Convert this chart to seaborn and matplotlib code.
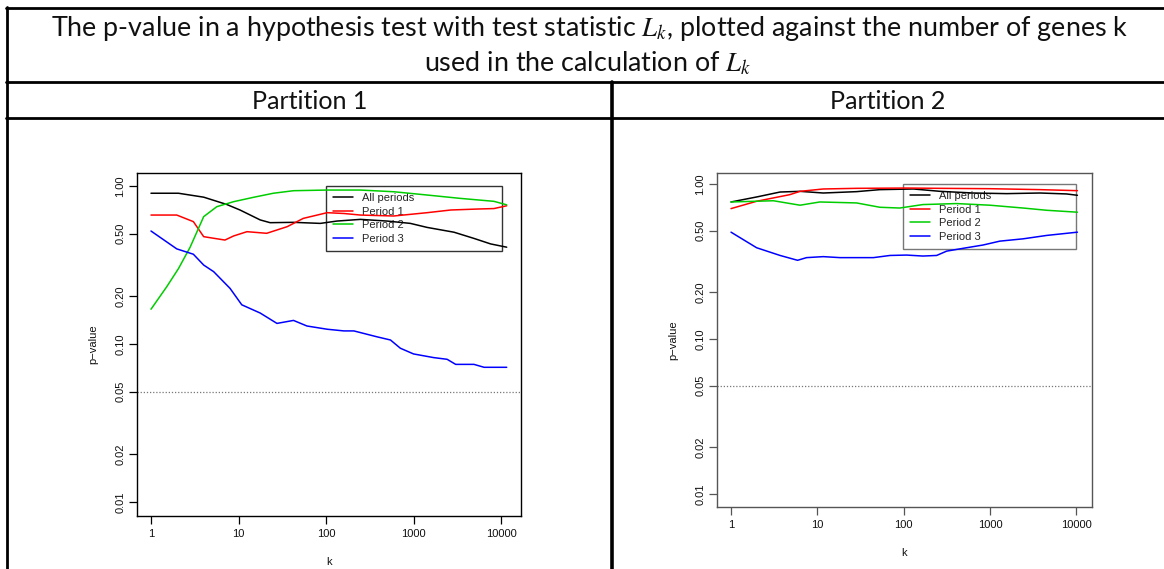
import numpy as np
import pandas as pd
import matplotlib
matplotlib.use("Agg")
import matplotlib.pyplot as plt
import seaborn as sns
from matplotlib.lines import Line2D

sns.set_theme(style="white")
plt.rcParams['font.family'] = ['Liberation Sans', 'DejaVu Sans']
plt.rcParams['mathtext.fontset'] = 'stix'

# ---------------- data ----------------
title_line1 = "The p-value in a hypothesis test with test statistic $L_k$, plotted against the number of genes k"
title_line2 = "used in the calculation of $L_k$"
panel_titles = ["Partition 1", "Partition 2"]
series_names = ["All periods", "Period 1", "Period 2", "Period 3"]
x_ticks = [1, 10, 100, 1000, 10000]
x_tick_labels = ["1", "10", "100", "1000", "10000"]
y_ticks = [0.01, 0.02, 0.05, 0.10, 0.20, 0.50, 1.00]
y_tick_labels = ["0.01", "0.02", "0.05", "0.10", "0.20", "0.50", "1.00"]
threshold = 0.05

# Partition 1
p1_all_k = [1, 2.06, 4, 7.3, 10.4, 17.7, 23, 42.5, 86, 133, 247, 500, 920, 1430, 2900, 4900, 7600, 11600]
p1_all_p = [0.90, 0.90, 0.85, 0.765, 0.705, 0.61, 0.586, 0.589, 0.58, 0.60, 0.615, 0.60, 0.58, 0.547, 0.51, 0.466, 0.43, 0.41]
p1_per1_k = [1, 1.97, 3.05, 4, 5.2, 7, 8.8, 12.5, 21, 36, 55, 103, 160, 247, 594, 1430, 2660, 5370, 8300, 11600]
p1_per1_p = [0.655, 0.655, 0.595, 0.478, 0.467, 0.455, 0.483, 0.514, 0.502, 0.553, 0.624, 0.678, 0.67, 0.655, 0.646, 0.678, 0.705, 0.715, 0.72, 0.75]
p1_per2_k = [1, 1.51, 2.06, 2.8, 4, 5.65, 8.8, 14.8, 25, 42.5, 103, 247, 594, 1430, 3430, 8300, 11600]
p1_per2_p = [0.166, 0.23, 0.30, 0.41, 0.64, 0.74, 0.796, 0.848, 0.90, 0.934, 0.943, 0.943, 0.92, 0.877, 0.835, 0.80, 0.76]
p1_per3_k = [1, 1.97, 3.05, 4, 5.2, 8, 10.9, 17.7, 27.5, 42.5, 60.5, 103, 160, 208, 383, 545, 707, 1000, 1700, 2420, 3030, 4900, 6400, 11600]
p1_per3_p = [0.519, 0.40, 0.37, 0.316, 0.287, 0.225, 0.177, 0.157, 0.135, 0.141, 0.13, 0.124, 0.121, 0.121, 0.111, 0.106, 0.094, 0.0865, 0.082, 0.08, 0.0743, 0.0743, 0.0712, 0.0712]

# Partition 2
p2_all_k = [1, 1.98, 3.7, 6.3, 11.7, 28.5, 53, 130, 265, 640, 1560, 3800, 7700, 10300]
p2_all_p = [0.766, 0.825, 0.888, 0.897, 0.875, 0.893, 0.92, 0.929, 0.897, 0.875, 0.867, 0.875, 0.863, 0.846]
p2_per1_k = [1, 1.98, 4.8, 6.3, 11.7, 28.5, 108, 265, 1000, 3800, 10300]
p2_per1_p = [0.694, 0.774, 0.854, 0.897, 0.929, 0.938, 0.942, 0.938, 0.933, 0.92, 0.906]
p2_per2_k = [1, 3.1, 6.3, 10.7, 28.5, 53, 90, 167, 410, 1000, 2420, 4550, 10300]
p2_per2_p = [0.766, 0.78, 0.73, 0.766, 0.755, 0.708, 0.70, 0.737, 0.748, 0.73, 0.70, 0.677, 0.658]
p2_per3_k = [1, 1.98, 3.7, 5.9, 7.5, 11.7, 18.3, 44.6, 69.5, 108, 167, 241, 315, 535, 830, 1300, 2420, 4550, 10300]
p2_per3_p = [0.489, 0.388, 0.346, 0.322, 0.335, 0.34, 0.335, 0.335, 0.346, 0.348, 0.343, 0.346, 0.369, 0.388, 0.404, 0.428, 0.443, 0.466, 0.489]

colors = {"All periods": "#000000", "Period 1": "#FF0000", "Period 2": "#00CD00", "Period 3": "#0000FF"}


def make_df(ks, ps):
    frames = []
    for name, k, p in zip(series_names, ks, ps):
        frames.append(pd.DataFrame({"k": k, "p": p, "series": name}))
    return pd.concat(frames, ignore_index=True)


df1 = make_df([p1_all_k, p1_per1_k, p1_per2_k, p1_per3_k], [p1_all_p, p1_per1_p, p1_per2_p, p1_per3_p])
df2 = make_df([p2_all_k, p2_per1_k, p2_per2_k, p2_per3_k], [p2_all_p, p2_per1_p, p2_per2_p, p2_per3_p])

W, H = 1164, 569
fig = plt.figure(figsize=(W / 100, H / 100), dpi=100)
fig.patch.set_facecolor("white")


def px_rect(x0, y0, x1, y1):
    return [x0 / W, 1 - y1 / H, (x1 - x0) / W, (y1 - y0) / H]


ax1 = fig.add_axes(px_rect(137, 173, 521, 516))
ax2 = fig.add_axes(px_rect(717, 173, 1092, 507))

specs = [
    (ax1, df1, (0.692, 16900), (0.00815, 1.209), "#000000", (0.492, 0.962, 0.458, 0.184)),
    (ax2, df2, (0.688, 15200), (0.00824, 1.178), "#555555", (0.496, 0.967, 0.461, 0.189)),
]

for ax, df, xl, yl, fc, lp in specs:
    ax.set_xscale("log")
    ax.set_yscale("log")
    sns.lineplot(data=df, x="k", y="p", hue="series", palette=colors, ax=ax,
                 estimator=None, sort=False, legend=False, linewidth=1.1, zorder=3)
    ax.axhline(threshold, color="#777777", linestyle=(0, (1, 1.5)), linewidth=0.9, zorder=2)
    ax.set_xlim(*xl)
    ax.set_ylim(*yl)
    ax.set_xticks(x_ticks)
    ax.set_xticklabels(x_tick_labels)
    ax.set_yticks(y_ticks)
    ax.set_yticklabels(y_tick_labels, rotation=90, va="center")
    ax.minorticks_off()
    ax.tick_params(axis="both", which="major", direction="out", length=5.5, width=0.9,
                   color=fc, labelsize=8, labelcolor="#111111", bottom=True, left=True)
    ax.tick_params(axis="x", pad=4)
    ax.tick_params(axis="y", pad=3)
    for s in ax.spines.values():
        s.set_visible(True)
        s.set_color(fc)
        s.set_linewidth(1.0)
    ax.set_facecolor("white")
    ax.grid(False)
    ax.set_xlabel("k", fontsize=8, labelpad=13, color="#111111")
    ax.set_ylabel("p\u2212value", fontsize=8, labelpad=12, color="#111111")
    handles = [Line2D([], [], color=colors[n], linewidth=1.1) for n in series_names]
    leg = ax.legend(handles, series_names, loc="upper left",
                    bbox_to_anchor=(lp[0], lp[1] - lp[3], lp[2], lp[3]),
                    mode="expand", borderaxespad=0, fontsize=8, frameon=True,
                    fancybox=False, handlelength=1.8, handletextpad=0.8,
                    labelspacing=0.33, borderpad=0.62)
    leg.get_frame().set_edgecolor(fc)
    leg.get_frame().set_linewidth(1.0)
    leg.get_frame().set_facecolor("none")
    leg.set_zorder(1)

# ---------------- table frame and headings ----------------
lw = 2.0
def hline(y, x0, x1, w=lw):
    fig.add_artist(Line2D([x0 / W, x1 / W], [1 - y / H, 1 - y / H], color="black", linewidth=w))
def vline(x, y0, y1, w=lw):
    fig.add_artist(Line2D([x / W, x / W], [1 - y0 / H, 1 - y1 / H], color="black", linewidth=w))

hline(8, 6, W)
hline(82, 6, W)
hline(118, 6, W)
vline(7, 7, H)
vline(612, 82, H, w=2.6)

title_kw = dict(family=["Lato", "DejaVu Sans"], fontsize=19.4, ha="center", va="baseline", color="#111111")
head_kw = dict(title_kw, fontsize=18.1)
fig.text(590 / W, 1 - 36 / H, title_line1, **title_kw)
fig.text(588 / W, 1 - 71 / H, title_line2, **title_kw)
fig.text(310 / W, 1 - 109 / H, panel_titles[0], **head_kw)
fig.text(888 / W, 1 - 109 / H, panel_titles[1], **head_kw)

fig.savefig("out.png", dpi=100, facecolor="white")
